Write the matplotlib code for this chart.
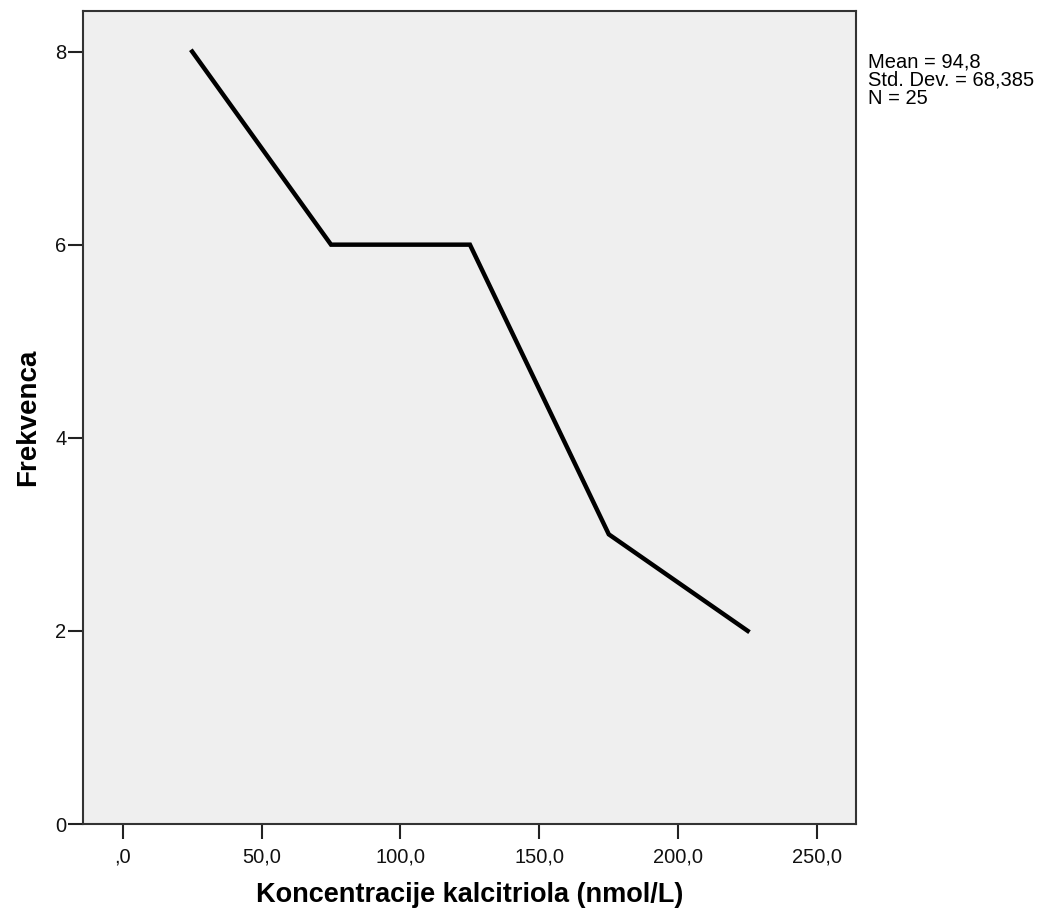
import matplotlib
matplotlib.use("Agg")
import matplotlib.pyplot as plt

plt.rcParams['font.family'] = ['Liberation Sans', 'DejaVu Sans']

midpoints = [25, 75, 125, 175, 225]
frequencies = [8, 6, 6, 3, 2]
xticks = [0, 50, 100, 150, 200, 250]
xticklabels = [',0', '50,0', '100,0', '150,0', '200,0', '250,0']
yticks = [0, 2, 4, 6, 8]
stats_text = "Mean = 94,8\nStd. Dev. = 68,385\nN = 25"

fig = plt.figure(figsize=(10.38, 9.09), dpi=100)
ax = fig.add_axes([83/1038, 85/909, (856-83)/1038, (824-11)/909])
ax.set_facecolor('#efefef')
ax.plot(midpoints, frequencies, color='black', linewidth=3.2, solid_joinstyle='miter')
ax.set_xlim(-14.3, 264)
ax.set_ylim(0, 8.42)
ax.set_xticks(xticks)
ax.set_xticklabels(xticklabels)
ax.set_yticks(yticks)
ax.tick_params(axis='both', direction='out', length=11, width=1.5, colors='#222222', labelsize=14.5, labelcolor='#111111')
ax.tick_params(axis='x', pad=6)
ax.tick_params(axis='y', pad=1)
for s in ax.spines.values():
    s.set_linewidth(1.5)
    s.set_color('#333333')
ax.set_xlabel('Koncentracije kalcitriola (nmol/L)', fontsize=19.5, fontweight='bold', labelpad=11)
ax.set_ylabel('Frekvenca', fontsize=20, fontweight='bold', labelpad=10)
fig.text(868/1038, 1 - 52/909, stats_text, fontsize=14.5, va='top', ha='left', linespacing=0.95)
fig.savefig('out.png', dpi=100)
